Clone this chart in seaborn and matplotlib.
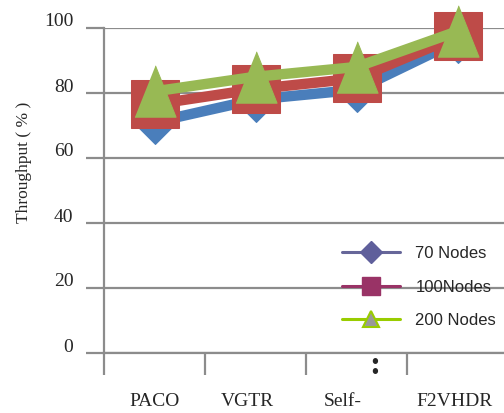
import matplotlib.pyplot as plt
import matplotlib.transforms as mtransforms
from matplotlib.lines import Line2D
import pandas as pd
import seaborn as sns

# -------------------
# Data
# -------------------
schemes = ["PACO", "VGTR", "Self-", "F2VHDR"]
nodes_70 = [71, 78, 81, 96]
nodes_100 = [76.5, 81.2, 84.5, 97.5]
nodes_200 = [80.5, 85, 88, 99]
series_names = ["70 Nodes", "100Nodes", "200 Nodes"]
y_ticks = [0, 20, 40, 60, 80, 100]

sns.set_style("white")
plt.rcParams["font.family"] = ["Liberation Serif", "DejaVu Serif"]

GRID = "#8c8c8c"
tri = [(-0.8, -1), (0.8, -1), (0, 1)]

fig = plt.figure(figsize=(5.04, 4.13), dpi=100)
ax = fig.add_axes([104 / 504, 60 / 413, 400 / 504, 325 / 413])

# -------------------
# Lines (plot colours)
# -------------------
styles = [
    (nodes_70, "#4a7ebb", "D", 22, 3),
    (nodes_100, "#be4b48", "s", 34, 4),
    (nodes_200, "#98b954", tri, 37, 5),
]
for vals, col, mk, ms, z in styles:
    df = pd.DataFrame({"scheme": schemes, "val": vals})
    sns.lineplot(data=df, x="scheme", y="val", ax=ax, sort=False,
                 color=col, lw=7.5, marker=mk, markersize=ms,
                 markeredgecolor=col, markerfacecolor=col,
                 clip_on=False, zorder=z)

# -------------------
# Axes styling
# -------------------
ax.set_xlim(-0.5, 3.46)
ax.set_ylim(0, 100)
ax.set_yticks(y_ticks)
ax.set_xlabel("")
ax.set_ylabel("Throughput ( % )", fontsize=12.5)
ax.yaxis.set_label_coords(-0.18, 0.586)

ax.yaxis.grid(True, color=GRID, lw=1.6)
ax.xaxis.grid(False)
for side in ["top", "right"]:
    ax.spines[side].set_visible(False)
for side in ["left", "bottom"]:
    ax.spines[side].set_color(GRID)
    ax.spines[side].set_linewidth(1.6)

ax.tick_params(axis="y", length=13, width=1.6, color=GRID, direction="out",
               pad=9, labelsize=14, left=True)
ax.tick_params(axis="x", which="major", length=0, pad=29, labelsize=14)
ax.set_xticks([-0.5, 0.5, 1.5, 2.5], minor=True)
ax.tick_params(axis="x", which="minor", length=16, width=1.6, color=GRID,
               direction="out", bottom=True)

# nudge tick labels like the original
for lab in ax.get_yticklabels():
    lab.set_transform(lab.get_transform() +
                      mtransforms.ScaledTranslation(0, 8 / 100, fig.dpi_scale_trans))
x_shift = [0, -8, -14, -3]
for lab, dx in zip(ax.get_xticklabels(), x_shift):
    lab.set_transform(lab.get_transform() +
                      mtransforms.ScaledTranslation(dx / 100, 0, fig.dpi_scale_trans))

# stray dots under "Self-"
fig.text(375 / 504, 1 - 366 / 413, ":", fontsize=24, fontweight="bold",
         ha="center", va="center")

# -------------------
# Legend
# -------------------
handles = [
    Line2D([], [], color="#666699", lw=2.2, marker="D", ms=11,
           mfc="#5f5f9b", mec="#5f5f9b"),
    Line2D([], [], color="#993366", lw=2.2, marker="s", ms=13,
           mfc="#993366", mec="#993366"),
    Line2D([], [], color="#99cc00", lw=2.2, marker="^", ms=11,
           mfc="#999999", mec="#99cc00", mew=1.5),
]
leg = ax.legend(handles, series_names, loc="center left",
                bbox_to_anchor=(342 / 504, 1 - 287 / 413),
                bbox_transform=fig.transFigure, frameon=False,
                borderpad=0, borderaxespad=0, handlelength=3.5,
                handletextpad=0.9, labelspacing=1.1,
                prop={"family": "Liberation Sans", "size": 12})

fig.savefig("out.png", dpi=100)
